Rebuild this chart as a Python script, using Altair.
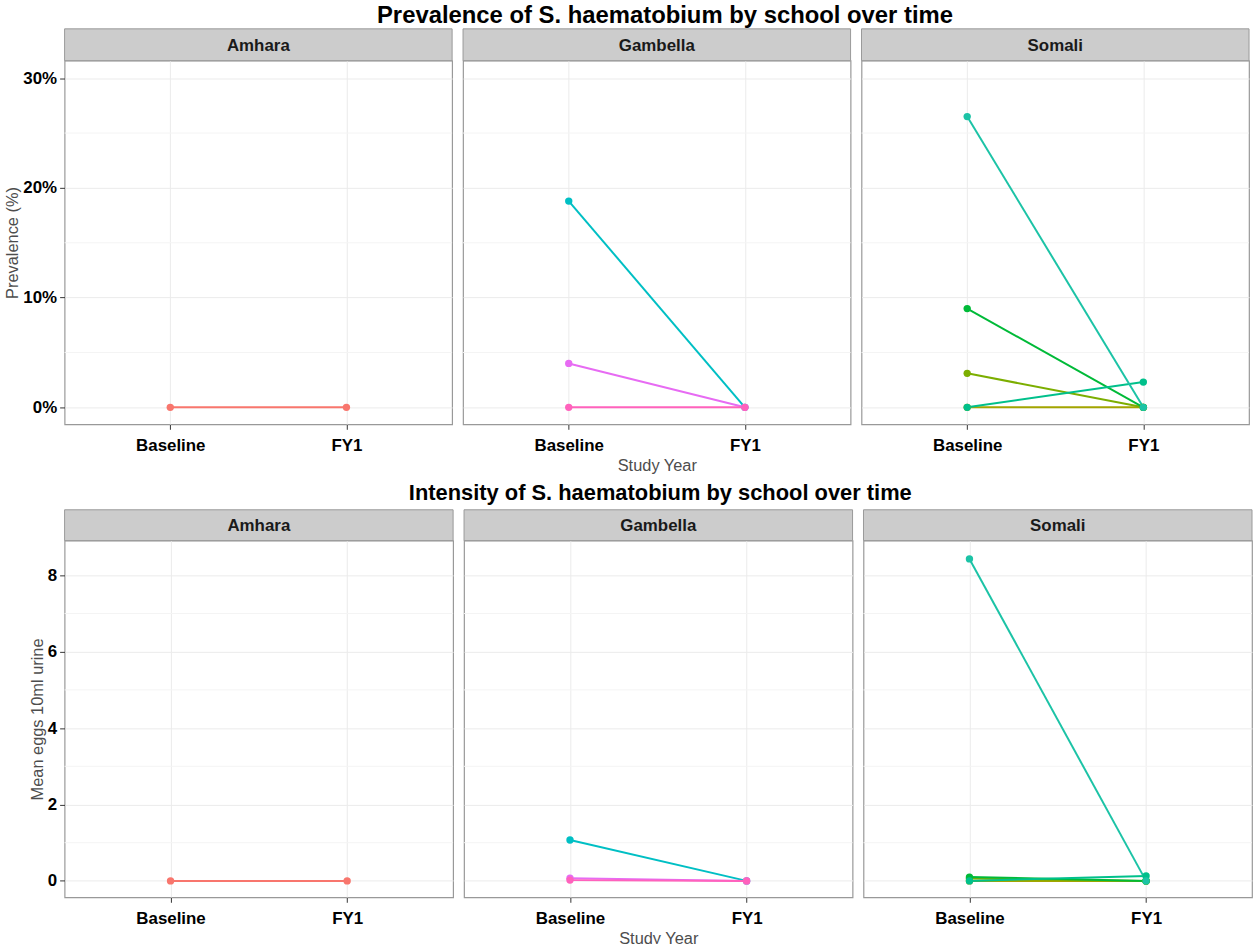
import altair as alt
import pandas as pd

FONT = "Liberation Sans"

regions = ["Amhara", "Gambella", "Somali"]
years = ["Baseline", "FY1"]

schools = ["Amhara-1", "Gambella-1", "Gambella-2", "Gambella-3",
           "Somali-1", "Somali-2", "Somali-3", "Somali-4", "Somali-5"]
school_region = ["Amhara", "Gambella", "Gambella", "Gambella",
                 "Somali", "Somali", "Somali", "Somali", "Somali"]
school_colors = ["#F8766D", "#00BFC4", "#E76BF3", "#FF62BC",
                 "#A3A500", "#7CAE00", "#00BA38", "#00C08B", "#1CC3A6"]

prev_baseline = [0.0, 18.8, 4.0, 0.0, 0.0, 3.1, 9.0, 0.0, 26.5]
prev_fy1 = [0.0, 0.0, 0.0, 0.0, 0.0, 0.0, 0.0, 2.3, 0.0]
int_baseline = [0.0, 1.07, 0.07, 0.02, 0.0, 0.06, 0.10, 0.0, 8.43]
int_fy1 = [0.0, 0.0, 0.0, 0.0, 0.0, 0.0, 0.0, 0.13, 0.0]

prev_ticks = [0, 10, 20, 30]
prev_minor = [5, 15, 25]
int_ticks = [0, 2, 4, 6, 8]
int_minor = [1, 3, 5, 7]


def long_table(base, fy1):
    rows = []
    for i, s in enumerate(schools):
        rows.append({"school": s, "region": school_region[i], "year": "Baseline", "value": base[i], "order": i})
        rows.append({"school": s, "region": school_region[i], "year": "FY1", "value": fy1[i], "order": i})
    return pd.DataFrame(rows)


prev_df = long_table(prev_baseline, prev_fy1)
int_df = long_table(int_baseline, int_fy1)

color_scale = alt.Scale(domain=schools, range=school_colors)


def panel(df, region, domain, ticks, minor, label_expr, first, middle, w, h, strip_h, ytitle, lh):
    d = df[df.region == region]
    x_axis = alt.Axis(
        title="Study Year" if middle else None,
        labelAngle=0, grid=True, gridColor="#EBEBEB", domain=False,
        tickColor="#333333", tickSize=5, labelPadding=8,
        labelFont=FONT, labelFontSize=17, labelFontWeight="bold", labelColor="black",
        titleFont=FONT, titleFontSize=16.5, titleFontWeight="normal", titleColor="#4d4d4d",
        titlePadding=4,
    )
    if first:
        y_axis = alt.Axis(
            title=ytitle, values=ticks, labelExpr=label_expr, grid=True, gridColor="#EBEBEB",
            domain=False, tickColor="#333333", tickSize=5, labelPadding=3,
            labelFont=FONT, labelFontSize=17, labelFontWeight="bold", labelColor="black",
            titleFont=FONT, titleFontSize=16.5, titleFontWeight="normal", titleColor="#4d4d4d",
            titlePadding=2, titleLineHeight=lh,
        )
    else:
        y_axis = alt.Axis(title=None, values=ticks, labels=False, ticks=False, domain=False,
                          grid=True, gridColor="#EBEBEB")
    x = alt.X("year:N", scale=alt.Scale(type="point", domain=years, padding=0.6), axis=x_axis)
    yscale = alt.Scale(domain=domain, nice=False, zero=False)
    y = alt.Y("value:Q", scale=yscale, axis=y_axis)

    minor_df = pd.DataFrame({"value": minor})
    minor_layer = alt.Chart(minor_df).mark_rule(color="#F4F4F4", strokeWidth=1).encode(y=y)

    base = alt.Chart(d).encode(
        x=x, y=y,
        color=alt.Color("school:N", scale=color_scale, legend=None),
    )
    lines = base.mark_line(strokeWidth=2).encode(detail="school:N", order="year:N")
    points = base.mark_circle(size=55, opacity=1).encode(order=alt.Order("order:Q"))

    strip_df = pd.DataFrame({"region": [region]})
    strip = alt.Chart(strip_df).mark_rect(fill="#CCCCCC", stroke="#999999", strokeWidth=1).encode(
        x=alt.value(0), x2=alt.value(w), y=alt.value(-strip_h), y2=alt.value(0)
    )
    strip_text = alt.Chart(strip_df).mark_text(
        font=FONT, fontSize=17, fontWeight="bold", color="#1a1a1a", baseline="middle", align="center"
    ).encode(x=alt.value(w / 2), y=alt.value(-strip_h / 2 + 1), text="region:N")

    return alt.layer(minor_layer, lines, points, strip, strip_text).properties(width=w, height=h)


def row(df, title, domain, ticks, minor, label_expr, w, h, strip_h, ytitle, lh, dx, tsize, toff):
    panels = [
        panel(df, r, domain, ticks, minor, label_expr, i == 0, i == 1, w, h, strip_h, ytitle, lh)
        for i, r in enumerate(regions)
    ]
    return alt.hconcat(*panels, spacing=7).properties(
        title=alt.TitleParams(title, font=FONT, fontSize=tsize, fontWeight="bold", color="black",
                              anchor="middle", offset=toff, dx=dx)
    )


top = row(prev_df, "Prevalence of S. haematobium by school over time", [-1.55, 31.6],
          prev_ticks, prev_minor, "datum.value + '%'", 390, 366, 32, "Prevalence (%)", 19, 38, 24, 0)
bottom = row(int_df, "Intensity of S. haematobium by school over time", [-0.43, 8.91],
             int_ticks, int_minor, "datum.label", 391, 359, 31, ["", "Mean eggs 10ml urine"], 19, 29, 22, 4)

chart = alt.vconcat(top, bottom, spacing=6).properties(
    padding={"left": 4, "top": 0, "right": 0, "bottom": 0}
).configure_view(stroke="#999999", strokeWidth=1.2)

chart.save("out.html", embed_options={"renderer": "svg", "actions": False})
